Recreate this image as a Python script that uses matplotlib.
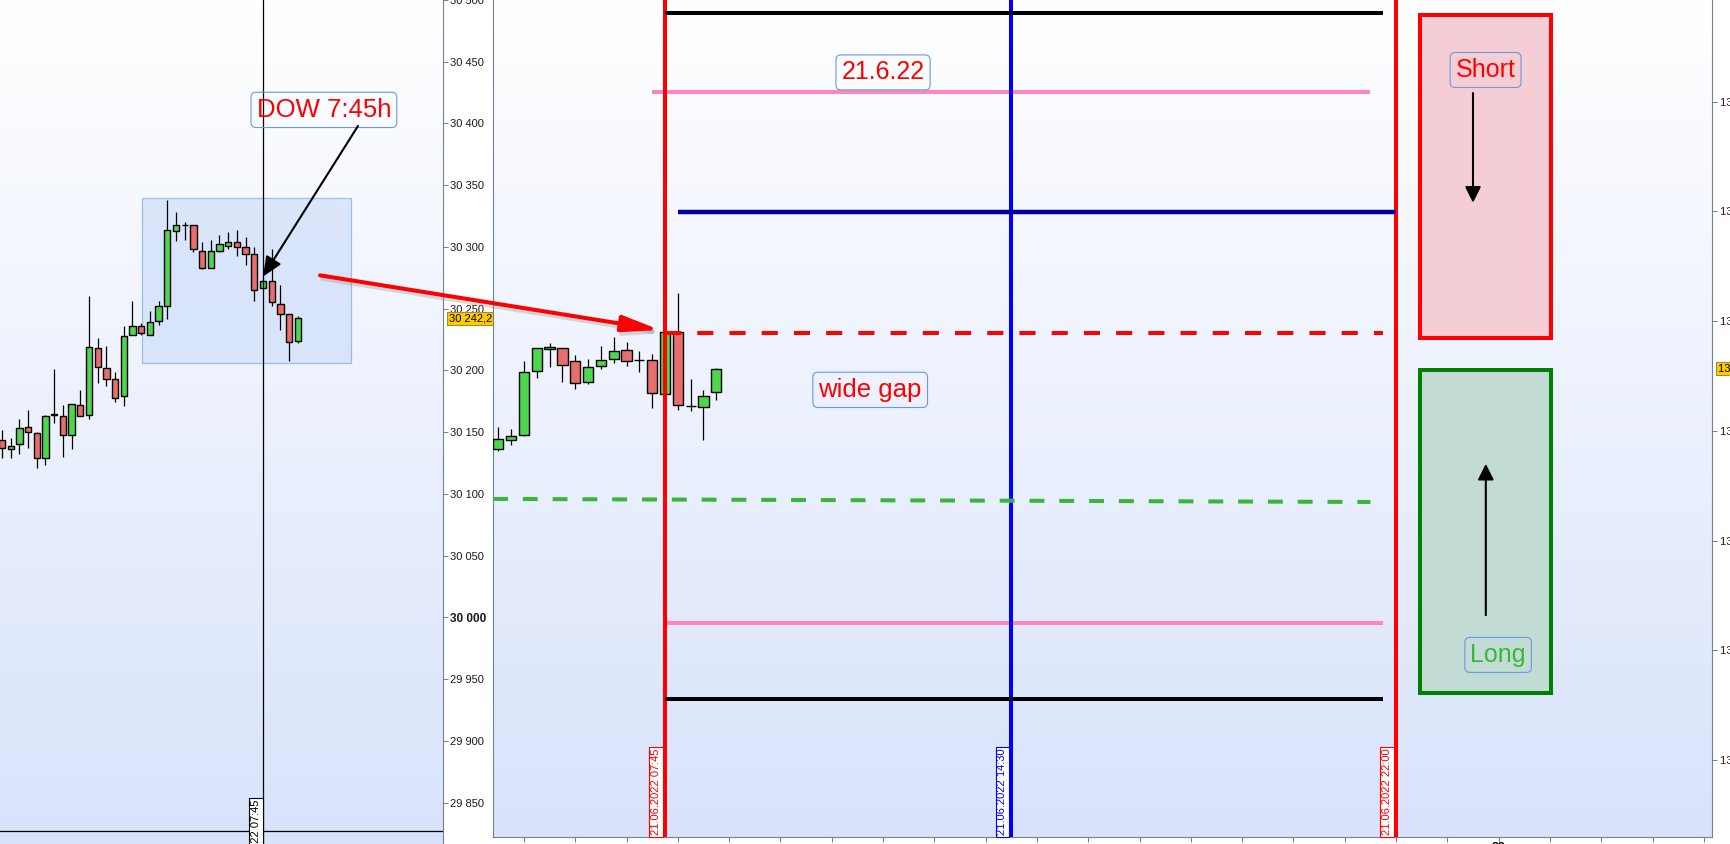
import numpy as np
import matplotlib
matplotlib.use('Agg')
import matplotlib.pyplot as plt
import matplotlib.patheffects as pe
import matplotlib.transforms as mtransforms
from matplotlib.patches import Rectangle, ConnectionPatch
from matplotlib.colors import LinearSegmentedColormap

plt.rcParams['font.family'] = ['Liberation Sans', 'DejaVu Sans']

# ---- DOW, 15 min candles on 21.06.2022 (hours of the day) ----
dow_start = 0.25
dow_open = [30144, 30136, 30140, 30154, 30149, 30129, 30164, 30163, 30148, 30172,
            30164, 30218, 30202, 30193, 30179, 30229, 30236, 30229, 30240, 30252,
            30313, 30318, 30318, 30297, 30283, 30297, 30301, 30304, 30300, 30294,
            30267, 30272, 30254, 30246, 30224]
dow_high = [30152, 30145, 30161, 30168, 30150, 30164, 30201, 30172, 30173, 30184,
            30260, 30226, 30220, 30199, 30236, 30256, 30238, 30248, 30256, 30338,
            30328, 30320, 30318, 30304, 30306, 30310, 30312, 30314, 30308, 30300,
            30275, 30298, 30269, 30246, 30244]
dow_low = [30129, 30129, 30132, 30137, 30121, 30123, 30157, 30130, 30136, 30163,
           30161, 30190, 30187, 30174, 30171, 30229, 30229, 30229, 30237, 30242,
           30305, 30306, 30296, 30282, 30283, 30296, 30298, 30293, 30285, 30256,
           30266, 30252, 30233, 30208, 30222]
dow_close = [30137, 30139, 30153, 30150, 30129, 30163, 30165, 30148, 30173, 30163,
             30219, 30203, 30193, 30178, 30228, 30236, 30230, 30239, 30252, 30314,
             30318, 30318, 30298, 30283, 30297, 30302, 30304, 30300, 30294, 30265,
             30272, 30255, 30246, 30223, 30242.2]
dow_ticks = [29850, 29900, 29950, 30000, 30050, 30100, 30150, 30200, 30250,
             30300, 30350, 30400, 30450, 30500]
dow_last = 30242.2
dow_cross_price = 29827
dow_box = (4.27, 10.28, 30206, 30340)      # time from, time to, low, high

# ---- DAX, 15 min candles ----
dax_start = 4.5
dax_open = [13241.8, 13245.9, 13248.2, 13277.3, 13287.4, 13287.8, 13281.9, 13272.3, 13279.6,
            13282.8, 13286.9, 13282.4, 13282.4, 13266.9, 13295.1, 13261.4, 13260.9, 13267.8]
dax_high = [13251.8, 13250.9, 13281.9, 13287.8, 13290.1, 13287.8, 13284.6, 13282.8, 13288.7,
            13292.8, 13290.6, 13286.5, 13285.1, 13295.1, 13312.9, 13273.7, 13268.7, 13278.7]
dax_low = [13240.9, 13243.7, 13247.7, 13274.2, 13279.2, 13272.3, 13269.1, 13271.4, 13278.3,
           13281.0, 13279.6, 13276.9, 13260.5, 13266.9, 13259.6, 13259.1, 13245.9, 13264.1]
dax_close = [13246.3, 13247.7, 13276.9, 13287.8, 13288.3, 13280.1, 13271.9, 13279.2, 13282.4,
             13286.5, 13281.9, 13282.4, 13267.3, 13295.1, 13261.8, 13261.4, 13265.9, 13278.3]
dax_ticks = [13100, 13150, 13200, 13250, 13300, 13350, 13400]
dax_last = 13278.3
hour_ticks = list(range(5, 29))

# levels drawn for the day
r2_level, s2_level = 13440.5, 13127.8
r1_level, s1_level = 13404.5, 13162.5
pivot_level = 13349.8
gap_top = 13294.7
gap_bottom = [13219.0, 13217.6]
t_open, t_mid, t_close = 7.75, 14.5, 22.0
session_marks = ['07:45', '14:30', '22:00']
short_zone = (22.47, 25.02, 13292.4, 13439.6)
long_zone = (22.47, 25.02, 13130.6, 13277.8)

GREEN = '#4fd64f'
RED = '#e86e6e'
GREY = '#718294'

W, H = 1731, 844
fig = plt.figure(figsize=(W / 100, H / 100), dpi=100)
fig.patch.set_facecolor('white')
ax1 = fig.add_axes([0, 0, 443 / W, 1])
ax2 = fig.add_axes([493 / W, 7 / H, 1219 / W, 837 / H])

bg = LinearSegmentedColormap.from_list('bg', ['#ffffff', '#d8e3fb'])
grad = np.linspace(0, 1, 256).reshape(-1, 1)
for ax in (ax1, ax2):
    ax.imshow(grad, extent=(0, 1, 0, 1), transform=ax.transAxes, cmap=bg,
              aspect='auto', origin='upper', zorder=0)


def draw_candles(ax, start, o, h, l, c, width):
    o, h, l, c = map(np.asarray, (o, h, l, c))
    t = start + 0.25 * np.arange(len(o))
    cols = np.where(c > o, GREEN, np.where(c < o, RED, 'black'))
    ax.vlines(t, l, h, color='black', lw=0.9, zorder=2)
    ax.bar(t, np.abs(c - o), width, np.minimum(o, c), color=cols,
           edgecolor='black', linewidth=1.0, zorder=3)


def fmt(v):
    return f'{int(v):,}'.replace(',', ' ')


# ---------------- left chart: DOW ----------------
draw_candles(ax1, dow_start, dow_open, dow_high, dow_low, dow_close, 0.18)
ax1.set_xlim(0.193, 12.922)
ax1.set_ylim(29816.4, 30491.6)
for s in ('left', 'top', 'bottom'):
    ax1.spines[s].set_visible(False)
ax1.spines['right'].set_color(GREY)
ax1.set_xticks([])
ax1.yaxis.tick_right()
ax1.set_yticks(dow_ticks)
ax1.set_yticklabels([fmt(v) for v in dow_ticks])
ax1.tick_params(axis='y', length=3.6, width=0.75, color=GREY, pad=1.5,
                labelsize=8, labelcolor='#1a1a1a')
for lab in ax1.get_yticklabels():
    if lab.get_text() == '30 000':
        lab.set_fontweight('bold')
        lab.set_fontsize(8.5)

ax1.add_patch(Rectangle((dow_box[0], dow_box[2]), dow_box[1] - dow_box[0],
                        dow_box[3] - dow_box[2], facecolor='#c9daf8', alpha=0.6,
                        edgecolor='#6f9be8', lw=0.9, zorder=1))
ax1.axvline(t_open, color='black', lw=0.9, zorder=4)
ax1.axhline(dow_cross_price, color='black', lw=0.9, zorder=4)
tr = mtransforms.offset_copy(ax1.get_xaxis_transform(), fig=fig, x=-2, y=0, units='dots')
ax1.text(t_open, 0.053, '21.06.2022 07:45', transform=tr, rotation=90, ha='right',
         va='top', fontsize=8, color='black', zorder=6,
         bbox=dict(boxstyle='square,pad=0.15', fc='white', ec='black', lw=0.8))

ax1.text(9.5, 30411, 'DOW 7:45h', fontsize=18.5, color='red', ha='center',
         va='center', zorder=6,
         bbox=dict(boxstyle='round,pad=0.22,rounding_size=0.2', fc='none',
                   ec='#6a97e6', lw=0.8))
ax1.annotate('', xy=(t_open, 30276), xytext=(10.48, 30398),
             arrowprops=dict(arrowstyle='-|>,head_length=0.8,head_width=0.35',
                             color='black', lw=1.5, shrinkA=0, shrinkB=0,
                             mutation_scale=15), zorder=6)

mk = mtransforms.offset_copy(mtransforms.blended_transform_factory(ax1.transAxes, ax1.transData),
                             fig=fig, x=6, y=0, units='dots')
ax1.text(1.0, dow_last, '30 242,2', transform=mk, ha='left', va='center', fontsize=8,
         color='black', zorder=8,
         bbox=dict(boxstyle='square,pad=0.15', fc='#ffcc00', ec='#a08d3c', lw=0.8))

# ---------------- right chart: DAX ----------------
draw_candles(ax2, dax_start, dax_open, dax_high, dax_low, dax_close, 0.2)
ax2.set_xlim(4.397, 28.159)
ax2.set_ylim(13064.9, 13446.4)
ax2.spines['top'].set_visible(False)
for s in ('left', 'bottom', 'right'):
    ax2.spines[s].set_color(GREY)
ax2.yaxis.tick_right()
ax2.set_yticks(dax_ticks)
ax2.set_yticklabels([fmt(v) for v in dax_ticks])
ax2.tick_params(axis='y', length=3.6, width=0.75, color=GREY, pad=2,
                labelsize=8, labelcolor='#1a1a1a')
ax2.set_xticks(hour_ticks)
ax2.set_xticklabels([])
ax2.tick_params(axis='x', length=3.6, width=0.75, color=GREY)
ax2.text(24, -0.006, '22', transform=ax2.get_xaxis_transform(), ha='center', va='top',
         fontsize=9, fontweight='bold')

ax2.hlines([r2_level, s2_level], t_open, 21.75, color='black', lw=2.9, zorder=5)
ax2.hlines(r1_level, 7.5, 21.5, color='#ff85c2', lw=2.9, zorder=3)
ax2.hlines(s1_level, t_open, 21.75, color='#ff85c2', lw=2.9, zorder=3)
ax2.hlines(pivot_level, 8.0, t_close, color='#0000a0', lw=3.2, zorder=5)
ax2.plot([t_open, 21.75], [gap_top, gap_top], color='red', lw=2.9,
         dashes=(4, 4), zorder=5)
ax2.plot([4.397, 21.5], gap_bottom, color='#3ab53a', lw=2.9, dashes=(3.7, 3.7),
         zorder=5)

for t, col, label in zip((t_open, t_mid, t_close), ('red', '#0000ff', 'red'), session_marks):
    ax2.axvline(t, color=col, lw=2.9, zorder=4)
    tr = mtransforms.offset_copy(ax2.get_xaxis_transform(), fig=fig, x=-4, y=2,
                                 units='dots')
    ax2.text(t, 0, '21.06.2022 ' + label, transform=tr, rotation=90, ha='right',
             va='bottom', fontsize=8, color=col, zorder=6,
             bbox=dict(boxstyle='square,pad=0.15', fc='white', ec=col, lw=0.8))

ax2.add_patch(Rectangle((short_zone[0], short_zone[2]), short_zone[1] - short_zone[0],
                        short_zone[3] - short_zone[2], facecolor='#f5ced5',
                        edgecolor='red', lw=2.9, zorder=3))
ax2.add_patch(Rectangle((long_zone[0], long_zone[2]), long_zone[1] - long_zone[0],
                        long_zone[3] - long_zone[2], facecolor='#c2dcd5',
                        edgecolor='#008000', lw=2.9, zorder=3))

box = dict(boxstyle='round,pad=0.22,rounding_size=0.2', fc='none', ec='#6a97e6', lw=0.8)
ax2.text(12.0, 13413.4, '21.6.22', fontsize=18, color='red', ha='center', va='center',
         zorder=6, bbox=box)
ax2.text(11.75, 13268.7, 'wide gap', fontsize=18.5, color='red', ha='center',
         va='center', zorder=6, bbox=box)
ax2.text(23.745, 13414.5, 'Short', fontsize=18, color='red', ha='center', va='center',
         zorder=6, bbox=box)
ax2.text(23.99, 13147.9, 'Long', fontsize=18, color='#38b838', ha='center',
         va='center', zorder=6, bbox=box)
arr = dict(arrowstyle='-|>,head_length=0.8,head_width=0.4', color='black', lw=1.5,
           shrinkA=0, shrinkB=0, mutation_scale=12)
ax2.annotate('', xy=(23.5, 13354), xytext=(23.5, 13404), arrowprops=arr, zorder=6)
ax2.annotate('', xy=(23.75, 13235), xytext=(23.75, 13166), arrowprops=arr, zorder=6)

mk2 = mtransforms.offset_copy(mtransforms.blended_transform_factory(ax2.transAxes, ax2.transData),
                              fig=fig, x=6, y=0, units='dots')
ax2.text(1.0, dax_last, '13 278,3', transform=mk2, ha='left', va='center', fontsize=8,
         color='black', zorder=8,
         bbox=dict(boxstyle='square,pad=0.15', fc='#ffcc00', ec='#a08d3c', lw=0.8))

# red arrow from the DOW box to the DAX open candle
con = ConnectionPatch(xyA=(9.39, 30277), coordsA=ax1.transData,
                      xyB=(7.65, 13296), coordsB=ax2.transData,
                      arrowstyle='-|>,head_length=1.6,head_width=0.35',
                      mutation_scale=14, color='red', lw=2.9, shrinkA=0, shrinkB=0,
                      zorder=10)
con.set_path_effects([pe.SimpleLineShadow(offset=(1.5, -2.5), shadow_color='0.45', alpha=0.25),
                      pe.Normal()])
fig.add_artist(con)

fig.savefig('out.png', dpi=100)
